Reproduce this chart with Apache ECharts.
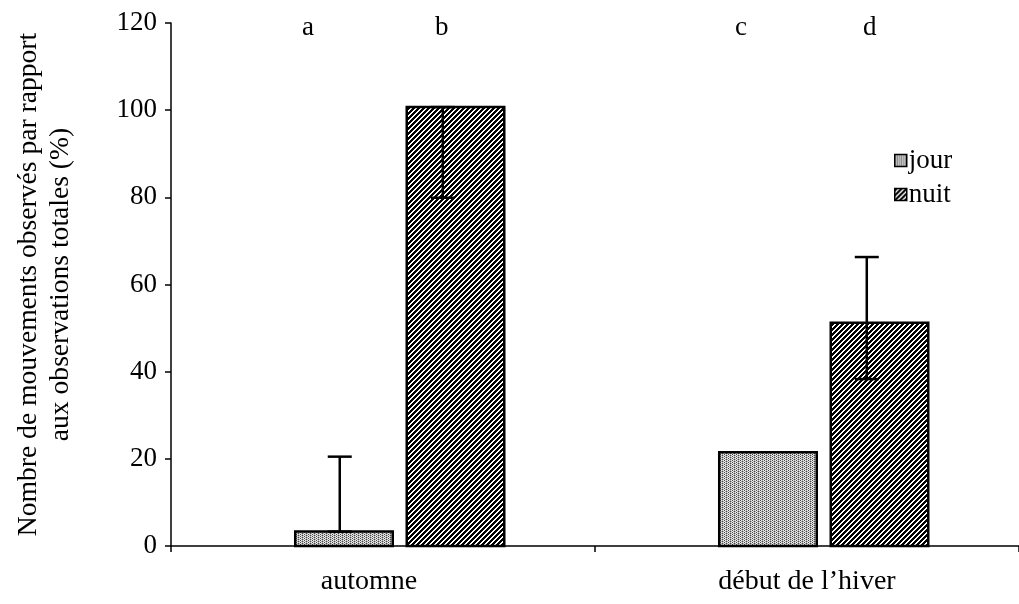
<!DOCTYPE html>
<html>
<head>
<meta charset="utf-8">
<script src="https://cdn.jsdelivr.net/npm/echarts@6/dist/echarts.min.js"></script>
<style>
  html, body { margin: 0; padding: 0; background: #fff; }
  #chart { width: 1019px; height: 604px; }
</style>
</head>
<body>
<div id="chart"></div>
<script>
// Periods on the horizontal axis
const categories = ['automne', 'début de l\u2019hiver'];
const seriesNames = ['jour', 'nuit'];
// Percentage of movements observed, per period
const jourValues = [3.3, 21.5];
const nuitValues = [100.7, 51.2];
// Error bar ends [low, high]; null where no bar is drawn
const jourErrors = [[3.3, 20.5], null];
const nuitErrors = [[79.9, 100.7], [38.3, 66.3]];
// Significance letters above the bars
const letters = ['a', 'b', 'c', 'd'];
// Y axis ticks
const yMin = 0, yMax = 120, yStep = 20;

const FONT = '"Liberation Serif", "Times New Roman", serif';

// Fill textures
function makeTile(size, painter) {
  const c = document.createElement('canvas');
  c.width = size; c.height = size;
  const ctx = c.getContext('2d');
  const img = ctx.createImageData(size, size);
  for (let y = 0; y < size; y++) {
    for (let x = 0; x < size; x++) {
      const g = painter(x, y);
      const i = (y * size + x) * 4;
      img.data[i] = g; img.data[i + 1] = g; img.data[i + 2] = g; img.data[i + 3] = 255;
    }
  }
  ctx.putImageData(img, 0, 0);
  return { image: c, repeat: 'repeat' };
}
// fine grey stipple
const stipple = makeTile(4, (x, y) => {
  if ((x + 2 * y) % 4 === 0) return 70;
  if ((x + y) % 2 === 0) return 175;
  return 235;
});
// diagonal "/" hatching
const hatch = makeTile(5, (x, y) => ((x + y) % 5 < 3 ? 0 : 255));
const fills = [stipple, hatch];

// Bar layout inside a category band (fractions of the band)
const PAIR_START = 0.293;
const BAR_W = 0.23;
const BAR_GAP = 0.033;
const ERR_SHIFT = [-0.01, -0.03];
const CAP_W = 24;

function slotLeft(center, band, slot) {
  return center - band / 2 + band * (PAIR_START + slot * (BAR_W + BAR_GAP));
}

function barRenderer(slot) {
  return function (params, api) {
    const cat = api.value(0);
    const base = api.coord([cat, 0]);
    const top = api.coord([cat, api.value(1)]);
    const band = api.size([1, 0])[0];
    return {
      type: 'rect',
      shape: { x: slotLeft(base[0], band, slot), y: top[1], width: band * BAR_W, height: base[1] - top[1] },
      style: { fill: fills[slot], stroke: '#000', lineWidth: 2.5 }
    };
  };
}

function errRenderer(slot) {
  return function (params, api) {
    const cat = api.value(0);
    const lo = api.coord([cat, api.value(1)]);
    const hi = api.coord([cat, api.value(2)]);
    const band = api.size([1, 0])[0];
    const x = slotLeft(lo[0], band, slot) + band * BAR_W / 2 + band * ERR_SHIFT[slot];
    const st = { stroke: '#000', lineWidth: 2.5 };
    return {
      type: 'group',
      children: [
        { type: 'line', shape: { x1: x, y1: lo[1], x2: x, y2: hi[1] }, style: st },
        { type: 'line', shape: { x1: x - CAP_W / 2, y1: hi[1], x2: x + CAP_W / 2, y2: hi[1] }, style: st },
        { type: 'line', shape: { x1: x - CAP_W / 2, y1: lo[1], x2: x + CAP_W / 2, y2: lo[1] }, style: st }
      ]
    };
  };
}

function errData(list) {
  const out = [];
  list.forEach((e, i) => { if (e) out.push([i, e[0], e[1]]); });
  return out;
}

const valueLists = [jourValues, nuitValues];
const errorLists = [jourErrors, nuitErrors];
const series = [];
seriesNames.forEach((name, s) => {
  series.push({
    name: name,
    type: 'custom',
    renderItem: barRenderer(s),
    itemStyle: { color: fills[s], borderColor: '#000', borderWidth: 1.5 },
    encode: { x: 0, y: 1 },
    data: valueLists[s].map((v, i) => [i, v]),
    z: 2
  });
  series.push({
    name: name,
    type: 'custom',
    renderItem: errRenderer(s),
    encode: { x: 0, y: [1, 2] },
    data: errData(errorLists[s]),
    z: 3,
    silent: true
  });
});

const chart = echarts.init(document.getElementById('chart'), null, { renderer: 'canvas' });

chart.setOption({
  animation: false,
  backgroundColor: '#fff',
  grid: { left: 171, right: -4, top: 23, bottom: 58, containLabel: false },
  legend: {
    orient: 'vertical',
    left: 889,
    top: 142,
    itemWidth: 12,
    itemHeight: 12,
    itemGap: 7,
    icon: 'rect',
    textStyle: { fontFamily: FONT, fontSize: 27, color: '#000', padding: [0, 0, 0, -3] },
    data: seriesNames.map((n, s) => ({
      name: n,
      itemStyle: { color: fills[s], borderColor: '#000', borderWidth: 1.5 }
    }))
  },
  xAxis: {
    type: 'category',
    data: categories,
    boundaryGap: true,
    axisLine: { lineStyle: { color: '#000', width: 1.5 } },
    axisTick: { show: true, alignWithLabel: false, length: 6, lineStyle: { color: '#000', width: 1.5 } },
    axisLabel: {
      fontFamily: FONT, fontSize: 28, color: '#000', margin: 22,
      formatter: (v, i) => (i === 0 ? '{l|' + v + '}' : v),
      rich: { l: { fontFamily: FONT, fontSize: 28, color: '#000', padding: [0, 28, 0, 0] } }
    },
    splitLine: { show: false }
  },
  yAxis: {
    type: 'value',
    min: yMin,
    max: yMax,
    interval: yStep,
    name: 'Nombre de mouvements observés par rapport\naux observations totales (%)',
    nameLocation: 'middle',
    nameRotate: 90,
    nameGap: 94,
    nameTextStyle: { fontFamily: FONT, fontSize: 27.6, color: '#000', lineHeight: 32 },
    axisLine: { show: true, lineStyle: { color: '#000', width: 1.5 } },
    axisTick: { show: true, length: 6, lineStyle: { color: '#000', width: 1.5 } },
    axisLabel: { fontFamily: FONT, fontSize: 27, color: '#000', margin: 14 },
    splitLine: { show: false }
  },
  graphic: letters.map((t, i) => ({
    type: 'text',
    left: [302, 435, 735, 863][i],
    top: 14,
    style: { text: t, font: '27px ' + FONT, fill: '#000' }
  })),
  series: series
});
</script>
</body>
</html>
